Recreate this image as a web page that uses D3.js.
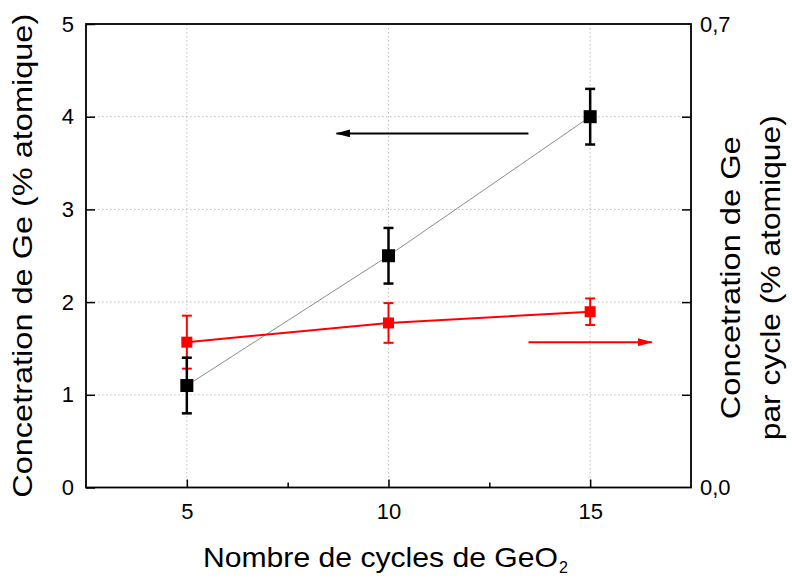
<!DOCTYPE html>
<html><head><meta charset="utf-8">
<script src="https://cdn.jsdelivr.net/npm/d3@7"></script>
<style>body{margin:0;background:#fff}svg{display:block}text{font-family:"Liberation Sans",Arial,sans-serif;fill:#000}</style>
</head><body><svg id="c" width="792" height="578"></svg>
<script>
// ---- data ----
const xCycles = [5, 10, 15];
const geConc = [1.1, 2.5, 4.0];            // left axis (% atomique)
const geConcErr = [0.3, 0.3, 0.3];
const gePerCycle = [0.2195, 0.2485, 0.2655]; // right axis (% atomique / cycle)
const gePerCycleErr = [0.04, 0.03, 0.02];
const xTicks = [5, 10, 15];
const xMinorTicks = [7.5, 12.5];
const yLeftTicks = [0, 1, 2, 3, 4, 5];
const yRightTicks = [0.14, 0.28, 0.42, 0.56];
const yRightLabels = [0, 0.7];
const arrowLeft = {y: 3.82, x1: 13.47, x2: 8.71};     // points to left axis (left units)
const arrowRight = {y: 0.2195, x1: 13.47, x2: 16.53}; // points to right axis (right units)

// ---- layout ----
const W = 792, H = 578;
const m = {left: 86, top: 24, right: 101, bottom: 90.5};
const w = W - m.left - m.right, h = H - m.top - m.bottom;
const svg = d3.select("#c");
const g = svg.append("g").attr("transform", `translate(${m.left},${m.top})`);

const x = d3.scaleLinear().domain([2.5, 17.5]).range([0, w]);
const yL = d3.scaleLinear().domain([0, 5]).range([h, 0]);
const yR = d3.scaleLinear().domain([0, 0.7]).range([h, 0]);

// defs for arrowheads
const defs = svg.append("defs");
[["ahBlack", "#000"], ["ahRed", "#ff0000"]].forEach(([id, c]) => {
  defs.append("marker").attr("id", id).attr("markerUnits", "userSpaceOnUse")
    .attr("markerWidth", 15).attr("markerHeight", 8).attr("refX", 14).attr("refY", 4)
    .attr("orient", "auto")
    .append("path").attr("d", "M0,0 L15,4 L0,8 Z").attr("fill", c);
});

// grid
const gridStyle = sel => sel.attr("stroke", "#bdbdbd").attr("stroke-width", 1).attr("stroke-dasharray", "1.5,2.5");
g.selectAll(".gy").data([1, 2, 3, 4]).join("line")
  .attr("x1", 0).attr("x2", w).attr("y1", d => yL(d)).attr("y2", d => yL(d)).call(gridStyle);
g.selectAll(".gx").data(xTicks).join("line")
  .attr("y1", 0).attr("y2", h).attr("x1", d => x(d)).attr("x2", d => x(d)).call(gridStyle);

// axes
const fs = "22px";
const axL = g.append("g").call(d3.axisLeft(yL).tickValues(yLeftTicks).tickSize(-9).tickPadding(12).tickFormat(d3.format("d")));
const axB = g.append("g").attr("transform", `translate(0,${h})`)
  .call(d3.axisBottom(x).tickValues(xTicks).tickSize(-8).tickPadding(12).tickFormat(d3.format("d")));
const axBm = g.append("g").attr("transform", `translate(0,${h})`)
  .call(d3.axisBottom(x).tickValues(xMinorTicks).tickSize(-5).tickFormat(""));
const axR = g.append("g").attr("transform", `translate(${w},0)`)
  .call(d3.axisRight(yR).tickValues(yRightTicks).tickSize(-9).tickFormat(""));
const axRl = g.append("g").attr("transform", `translate(${w},0)`)
  .call(d3.axisRight(yR).tickValues(yRightLabels).tickSize(0).tickPadding(9).tickFormat(d => d3.format(".1f")(d).replace(".", ",")));
[axL, axB, axBm, axR, axRl].forEach(a => {
  a.select(".domain").remove();
  a.selectAll("line").attr("stroke", "#000").attr("stroke-width", 1.5);
  a.selectAll("text").style("font-size", fs).attr("fill", "#000");
});
axB.selectAll("text").attr("dy", "0.9em");

// frame
g.append("rect").attr("x", 0).attr("y", 0).attr("width", w).attr("height", h)
  .attr("fill", "none").attr("stroke", "#000").attr("stroke-width", 1.8);

// black series: connecting line
const blackPts = xCycles.map((c, i) => [x(c), yL(geConc[i])]);
g.append("path").attr("d", d3.line()(blackPts)).attr("fill", "none").attr("stroke", "#8c8c8c").attr("stroke-width", 1);
// red series line
const redPts = xCycles.map((c, i) => [x(c), yR(gePerCycle[i])]);
g.append("path").attr("d", d3.line()(redPts)).attr("fill", "none").attr("stroke", "#ff0000").attr("stroke-width", 2);

// error bars
function errBars(vals, errs, ys, color, sw, cap) {
  const eg = g.append("g").attr("stroke", color).attr("stroke-width", sw);
  xCycles.forEach((c, i) => {
    const cx = x(c), y1 = ys(vals[i] + errs[i]), y2 = ys(vals[i] - errs[i]);
    eg.append("line").attr("x1", cx).attr("x2", cx).attr("y1", y1).attr("y2", y2);
    eg.append("line").attr("x1", cx - cap / 2).attr("x2", cx + cap / 2).attr("y1", y1).attr("y2", y1);
    eg.append("line").attr("x1", cx - cap / 2).attr("x2", cx + cap / 2).attr("y1", y2).attr("y2", y2);
  });
}
errBars(gePerCycle, gePerCycleErr, yR, "#ff0000", 2, 10);
errBars(geConc, geConcErr, yL, "#000", 2.5, 10);

// markers
const bs = 13, rs = 11;
g.selectAll(".rm").data(xCycles).join("rect")
  .attr("x", (d) => x(d) - rs / 2).attr("y", (d, i) => yR(gePerCycle[i]) - rs / 2)
  .attr("width", rs).attr("height", rs).attr("fill", "#ff0000");
g.selectAll(".bm").data(xCycles).join("rect")
  .attr("x", (d) => x(d) - bs / 2).attr("y", (d, i) => yL(geConc[i]) - bs / 2)
  .attr("width", bs).attr("height", bs).attr("fill", "#000");

// arrows
g.append("line").attr("x1", x(arrowLeft.x1)).attr("x2", x(arrowLeft.x2))
  .attr("y1", yL(arrowLeft.y)).attr("y2", yL(arrowLeft.y))
  .attr("stroke", "#000").attr("stroke-width", 2).attr("marker-end", "url(#ahBlack)");
g.append("line").attr("x1", x(arrowRight.x1)).attr("x2", x(arrowRight.x2))
  .attr("y1", yR(arrowRight.y)).attr("y2", yR(arrowRight.y))
  .attr("stroke", "#ff0000").attr("stroke-width", 2).attr("marker-end", "url(#ahRed)");

// titles
svg.append("text").attr("transform", `translate(32,${m.top + h / 2}) rotate(-90)`)
  .attr("text-anchor", "middle").style("font-size", "28px")
  .attr("textLength", 484).attr("lengthAdjust", "spacingAndGlyphs")
  .text("Concetration de Ge (% atomique)");
const rt = svg.append("text").attr("transform", `translate(${m.left + w},${m.top + h / 2 + 22}) rotate(-90)`)
  .attr("text-anchor", "middle").style("font-size", "28px");
rt.append("tspan").attr("x", 0).attr("y", 49).attr("textLength", 283).attr("lengthAdjust", "spacingAndGlyphs").text("Concetration de Ge");
rt.append("tspan").attr("x", 0).attr("y", 89).attr("textLength", 325).attr("lengthAdjust", "spacingAndGlyphs").text("par cycle (% atomique)");

const xt = svg.append("text").attr("x", 203).attr("y", 566.7).style("font-size", "28px");
xt.append("tspan").attr("textLength", 355).attr("lengthAdjust", "spacingAndGlyphs").text("Nombre de cycles de GeO");
svg.append("text").attr("x", 559).attr("y", 573).style("font-size", "16px").text("2");
</script></body></html>
